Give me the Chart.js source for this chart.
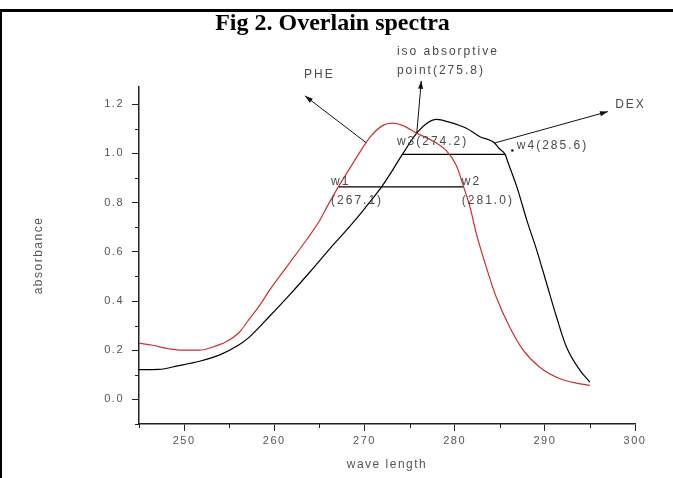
<!DOCTYPE html>
<html>
<head>
<meta charset="utf-8">
<script src="https://cdn.jsdelivr.net/npm/chart.js@4.4.1/dist/chart.umd.min.js"></script>
<style>
  html, body { margin: 0; padding: 0; background: #fff; overflow: hidden; }
  #frame { position: absolute; left: 0; top: 9px; width: 671px; height: 466px;
           border-top: 3px solid #000; border-left: 2px solid #000; }
  #chart { position: absolute; left: 0; top: 0; }
</style>
</head>
<body>
<div id="frame"></div>
<canvas id="chart" width="673" height="478"></canvas>
<script>
// PHE spectrum (red)
const pheWave = [245.0, 246.5, 248.3, 249.8, 251.7, 253.1, 254.6, 256.1, 257.2, 258.3,
                 259.5, 261.5, 263.5, 265.0, 266.0, 267.1, 268.3, 269.4, 270.6, 272.0,
                 273.1, 274.3, 275.8, 277.6, 279.1, 280.2, 281.0, 281.7, 282.4, 283.5,
                 284.6, 286.1, 287.6, 289.4, 291.7, 293.5, 295.0];
const pheAbs  = [0.229, 0.220, 0.206, 0.200, 0.200, 0.212, 0.233, 0.272, 0.325, 0.378,
                 0.445, 0.545, 0.645, 0.725, 0.793, 0.864, 0.935, 1.000, 1.065, 1.113,
                 1.123, 1.113, 1.082, 1.050, 1.010, 0.950, 0.864, 0.783, 0.675, 0.539,
                 0.417, 0.294, 0.200, 0.132, 0.084, 0.066, 0.057];

// DEX spectrum (black)
const dexWave = [245.0, 247.2, 249.4, 251.7, 253.9, 256.1, 257.2, 259.4, 261.7, 264.0,
                 266.1, 268.3, 270.0, 271.9, 273.0, 274.2, 275.8, 276.9, 278.0, 279.4,
                 281.3, 282.8, 284.3, 285.0, 285.6, 285.9, 286.9, 288.0, 289.1, 290.2,
                 291.3, 292.4, 293.9, 295.0];
const dexAbs  = [0.121, 0.122, 0.137, 0.155, 0.180, 0.222, 0.252, 0.335, 0.425, 0.520,
                 0.610, 0.700, 0.775, 0.864, 0.925, 0.996, 1.082, 1.122, 1.138, 1.127,
                 1.102, 1.068, 1.046, 1.018, 0.996, 0.965, 0.864, 0.729, 0.607, 0.471,
                 0.335, 0.213, 0.118, 0.070];

// band widths read at a fixed absorbance on each curve
const pheLevel = 0.864, pheEdges = [267.1, 281.0];
const dexLevel = 0.996, dexEdges = [274.2, 285.6];
const isoPoint = 275.8;

const xTicks = [250, 260, 270, 280, 290, 300];
const xMinor = [245, 255, 265, 275, 285, 295];
const yTicks = [0.0, 0.2, 0.4, 0.6, 0.8, 1.0, 1.2];
const yMinor = [-0.1, 0.1, 0.3, 0.5, 0.7, 0.9, 1.1];

const toPoints = (xs, ys) => xs.map((x, i) => ({x, y: ys[i]}));

// linear lookup of a curve value at a wavelength
function absAt(xs, ys, w) {
  for (let i = 1; i < xs.length; i++) {
    if (w <= xs[i]) {
      const t = (w - xs[i - 1]) / (xs[i] - xs[i - 1]);
      return ys[i - 1] + t * (ys[i] - ys[i - 1]);
    }
  }
  return ys[ys.length - 1];
}

const labelFont = '12px "Liberation Sans", Arial, sans-serif';
const inkGrey = '#4a4a4a';

const notes = [
  {text: 'PHE', x: 265.0, y: 1.32, align: 'center'},
  {text: 'iso absorptive', x: 273.6, y: 1.413},
  {text: 'point(' + isoPoint.toFixed(1) + ')', x: 273.6, y: 1.336},
  {text: 'DEX', x: 297.8, y: 1.197},
  {text: 'w1', x: 266.3, y: 0.884},
  {text: '(' + pheEdges[0].toFixed(1) + ')', x: 266.3, y: 0.806},
  {text: 'w2', x: 280.8, y: 0.884},
  {text: '(' + pheEdges[1].toFixed(1) + ')', x: 280.8, y: 0.806},
  {text: 'w3(' + dexEdges[0].toFixed(1) + ')', x: 273.6, y: 1.046},
  {text: 'w4(' + dexEdges[1].toFixed(1) + ')', x: 286.9, y: 1.030}
];

// arrows: from a point on a curve out to the label
const arrows = [
  {from: [270.2, absAt(pheWave, pheAbs, 270.2)], to: [263.4, 1.234]},
  {from: [isoPoint, absAt(dexWave, dexAbs, isoPoint)], to: [276.3, 1.295]},
  {from: [284.4, absAt(dexWave, dexAbs, 284.4)], to: [297.0, 1.170]}
];

const spectraNotes = {
  id: 'spectraNotes',
  beforeDraw(chart) {
    chart.ctx.letterSpacing = '1.5px';
  },
  afterDraw(chart) {
    const {ctx, chartArea, scales: {x, y}} = chart;
    const px = v => x.getPixelForValue(v);
    const py = v => y.getPixelForValue(v);
    ctx.save();

    // minor ticks
    ctx.strokeStyle = '#222';
    ctx.lineWidth = 1;
    ctx.beginPath();
    xMinor.forEach(v => {
      const X = Math.round(px(v)) + 0.5;
      ctx.moveTo(X, chartArea.bottom);
      ctx.lineTo(X, chartArea.bottom + 4);
    });
    yMinor.forEach(v => {
      const Y = Math.round(py(v)) + 0.5;
      ctx.moveTo(chartArea.left, Y);
      ctx.lineTo(chartArea.left - 4, Y);
    });
    ctx.stroke();

    // arrows
    ctx.strokeStyle = '#111';
    ctx.fillStyle = '#111';
    arrows.forEach(a => {
      const x1 = px(a.from[0]), y1 = py(a.from[1]);
      const x2 = px(a.to[0]), y2 = py(a.to[1]);
      const ang = Math.atan2(y2 - y1, x2 - x1);
      ctx.beginPath();
      ctx.moveTo(x1, y1);
      ctx.lineTo(x2, y2);
      ctx.stroke();
      ctx.beginPath();
      ctx.moveTo(x2, y2);
      ctx.lineTo(x2 - 8 * Math.cos(ang) + 2.5 * Math.sin(ang), y2 - 8 * Math.sin(ang) - 2.5 * Math.cos(ang));
      ctx.lineTo(x2 - 8 * Math.cos(ang) - 2.5 * Math.sin(ang), y2 - 8 * Math.sin(ang) + 2.5 * Math.cos(ang));
      ctx.closePath();
      ctx.fill();
    });

    // small marker next to w4
    ctx.beginPath();
    ctx.arc(px(286.4), py(1.012), 1.3, 0, Math.PI * 2);
    ctx.fill();

    // text notes
    ctx.letterSpacing = '2px';
    ctx.font = labelFont;
    ctx.fillStyle = inkGrey;
    ctx.textBaseline = 'middle';
    notes.forEach(n => {
      ctx.textAlign = n.align || 'left';
      ctx.fillText(n.text, px(n.x), py(n.y));
    });

    // heading
    ctx.letterSpacing = '0px';
    ctx.font = 'bold 24px "Liberation Serif", "Times New Roman", serif';
    ctx.fillStyle = '#000';
    ctx.textAlign = 'center';
    ctx.textBaseline = 'alphabetic';
    ctx.fillText('Fig 2. Overlain spectra', chart.width / 2 - 4, 30);
    ctx.restore();
  }
};

const tickFont = {family: '"Liberation Sans", Arial, sans-serif', size: 11};
const titleFont = {family: '"Liberation Sans", Arial, sans-serif', size: 12};

new Chart(document.getElementById('chart'), {
  type: 'line',
  data: {
    datasets: [
      {
        label: 'PHE',
        data: toPoints(pheWave, pheAbs),
        borderColor: '#cc3030',
        borderWidth: 1.2,
        pointRadius: 0,
        cubicInterpolationMode: 'monotone'
      },
      {
        label: 'DEX',
        data: toPoints(dexWave, dexAbs),
        borderColor: '#000',
        borderWidth: 1.2,
        pointRadius: 0,
        cubicInterpolationMode: 'monotone'
      },
      {
        label: 'PHE width',
        data: pheEdges.map(w => ({x: w, y: pheLevel})),
        borderColor: '#000',
        borderWidth: 1.2,
        pointRadius: 0
      },
      {
        label: 'DEX width',
        data: dexEdges.map(w => ({x: w, y: dexLevel})),
        borderColor: '#000',
        borderWidth: 1.2,
        pointRadius: 0
      }
    ]
  },
  options: {
    responsive: false,
    animation: false,
    events: [],
    layout: {padding: {top: 87, right: 38, left: 0, bottom: 0}},
    plugins: {legend: {display: false}, tooltip: {enabled: false}},
    scales: {
      x: {
        type: 'linear',
        min: 245,
        max: 300,
        afterFit: s => { s.height = 54; },
        afterBuildTicks: s => { s.ticks = xTicks.map(v => ({value: v})); },
        ticks: {font: tickFont, color: '#555', padding: 3, maxRotation: 0, callback: v => v},
        grid: {drawOnChartArea: false, drawTicks: true, tickLength: 7, tickColor: '#222'},
        border: {color: '#222', width: 1.5},
        title: {display: true, text: 'wave length', font: titleFont, color: '#555', padding: {top: 0, bottom: 6}}
      },
      y: {
        min: -0.1,
        max: 1.27,
        afterFit: s => { s.width = 139; },
        afterBuildTicks: s => { s.ticks = yTicks.map(v => ({value: v})); },
        ticks: {font: tickFont, color: '#555', padding: 8, callback: v => v.toFixed(1)},
        grid: {drawOnChartArea: false, drawTicks: true, tickLength: 7, tickColor: '#222'},
        border: {color: '#222', width: 1.5},
        title: {display: true, text: 'absorbance', font: titleFont, color: '#555', padding: {top: 31, bottom: 0}}
      }
    }
  },
  plugins: [spectraNotes]
});
</script>
</body>
</html>
